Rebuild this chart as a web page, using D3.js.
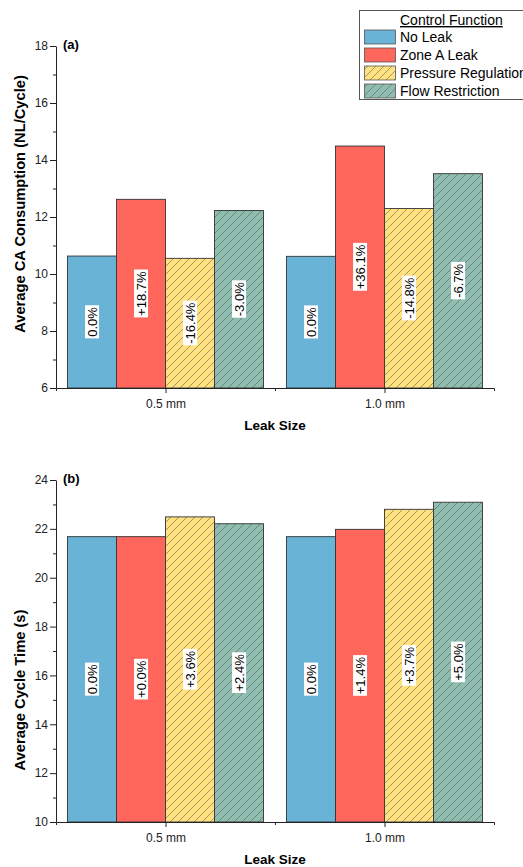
<!DOCTYPE html>
<html>
<head>
<meta charset="utf-8">
<script src="https://cdn.jsdelivr.net/npm/d3@7"></script>
<style>
  body { margin: 0; background: #fff; }
  svg { display: block; font-family: "Liberation Sans", Arial, sans-serif; }
</style>
</head>
<body>
<svg id="chart" width="523" height="867"></svg>
<script>
// leak sizes (mm) and series names
const leakSizes = [0.5, 1.0];
const seriesNames = ['No Leak', 'Zone A Leak', 'Pressure Regulation', 'Flow Restriction'];
const seriesColors = ['#68b3d6', '#ff665c', '#ffe27f', '#8fbdaf'];
const seriesHatched = [false, false, true, true];

// (a) average CA consumption (NL/cycle)
const caNoLeak = [10.63, 10.62];
const caZoneA = [12.62, 14.49];
const caPressure = [10.55, 12.30];
const caFlow = [12.23, 13.52];
const caPctNoLeak = ['0.0%', '0.0%'];
const caPctZoneA = ['+18.7%', '+36.1%'];
const caPctPressure = ['-16.4%', '-14.8%'];
const caPctFlow = ['-3.0%', '-6.7%'];

// (b) average cycle time (s)
const ctNoLeak = [21.68, 21.68];
const ctZoneA = [21.68, 21.98];
const ctPressure = [22.49, 22.80];
const ctFlow = [22.21, 23.09];
const ctPctNoLeak = ['0.0%', '0.0%'];
const ctPctZoneA = ['+0.0%', '+1.4%'];
const ctPctPressure = ['+3.6%', '+3.7%'];
const ctPctFlow = ['+2.4%', '+5.0%'];

const svg = d3.select('#chart');

// hatch pattern per colour
const defs = svg.append('defs');
seriesColors.forEach((c, i) => {
    if (!seriesHatched[i]) return;
    const p = defs.append('pattern')
        .attr('id', 'hatch' + i)
        .attr('patternUnits', 'userSpaceOnUse')
        .attr('width', 8)
        .attr('height', 8);
    p.append('rect').attr('width', 8).attr('height', 8).attr('fill', c);
    p.append('path')
        .attr('d', 'M0,8 L8,0 M-2,2 L2,-2 M6,10 L10,6')
        .attr('stroke', '#555')
        .attr('stroke-width', 0.55);
});
const fillFor = i => seriesHatched[i] ? `url(#hatch${i})` : seriesColors[i];

const X0 = 56, X1 = 494;

const drawPanel = (cfg) => {
    const x = d3.scaleLinear().domain([0.25, 1.25]).range([X0, X1]);
    const y = d3.scaleLinear().domain(cfg.yDomain).range([cfg.bottom, cfg.top]);
    const g = svg.append('g');

    const groupW = (x(1.0) - x(0.5)) * 0.895;
    const barW = groupW / seriesNames.length;

    const rows = [];
    cfg.values.forEach((vals, si) => {
        vals.forEach((v, ci) => {
            rows.push({ si, size: leakSizes[ci], v, label: cfg.labels[si][ci] });
        });
    });
    const bx = d => x(d.size) - groupW / 2 + d.si * barW;

    g.selectAll('.bar')
        .data(rows)
        .enter()
        .append('rect')
        .attr('class', 'bar')
        .attr('x', bx)
        .attr('y', d => y(d.v))
        .attr('width', barW)
        .attr('height', d => y(cfg.yDomain[0]) - y(d.v))
        .attr('fill', d => fillFor(d.si))
        .attr('stroke', '#333')
        .attr('stroke-width', 0.9);

    // percentage labels, rotated, centred in the bar
    const lab = g.selectAll('.lab')
        .data(rows)
        .enter()
        .append('g')
        .attr('class', 'lab')
        .attr('transform', d => `translate(${bx(d) + barW / 2},${(y(d.v) + y(cfg.yDomain[0])) / 2}) rotate(-90)`);
    lab.append('text')
        .attr('text-anchor', 'middle')
        .attr('dy', '0.35em')
        .attr('font-size', 13)
        .attr('fill', '#000')
        .text(d => d.label);
    lab.each(function () {
        const t = d3.select(this).select('text');
        const b = t.node().getBBox();
        d3.select(this).insert('rect', 'text')
            .attr('x', b.x - 1.5)
            .attr('y', b.y + 0.5)
            .attr('width', b.width + 3)
            .attr('height', b.height - 1)
            .attr('fill', '#fff');
    });

    // y axis: major + minor ticks
    const yMajor = d3.range(cfg.yDomain[0], cfg.yDomain[1] + 0.01, 2);
    const yMinor = d3.range(cfg.yDomain[0] + 1, cfg.yDomain[1], 2);
    g.append('g')
        .attr('transform', `translate(${X0},0)`)
        .call(d3.axisLeft(y).tickValues(yMajor).tickSize(6).tickPadding(2).tickSizeOuter(0));
    g.append('g')
        .attr('transform', `translate(${X0},0)`)
        .call(d3.axisLeft(y).tickValues(yMinor).tickSize(3).tickFormat('').tickSizeOuter(0))
        .select('.domain').remove();

    // x axis
    g.append('g')
        .attr('transform', `translate(0,${cfg.bottom})`)
        .call(d3.axisBottom(x).tickValues(leakSizes).tickSize(5).tickPadding(6).tickSizeOuter(3)
            .tickFormat(d => `${d.toFixed(1)} mm`));
    g.append('g')
        .attr('transform', `translate(0,${cfg.bottom})`)
        .call(d3.axisBottom(x).tickValues([0.75]).tickSize(3).tickFormat(''))
        .select('.domain').remove();

    g.selectAll('.tick text').attr('font-size', 12).attr('fill', '#222').attr('font-family', null);
    g.selectAll('.domain, .tick line').attr('stroke', '#222');

    g.append('text')
        .attr('x', (X0 + X1) / 2)
        .attr('y', cfg.bottom + 42)
        .attr('text-anchor', 'middle')
        .attr('font-size', 13.5)
        .attr('font-weight', 'bold')
        .text('Leak Size');

    g.append('text')
        .attr('transform', `translate(25,${cfg.yLabelY}) rotate(-90)`)
        .attr('text-anchor', 'middle')
        .attr('font-size', 14.7)
        .attr('font-weight', 'bold')
        .text(cfg.yTitle);

    g.append('text')
        .attr('x', 63)
        .attr('y', cfg.top + 3)
        .attr('font-size', 13)
        .attr('font-weight', 'bold')
        .text(cfg.tag);
};

drawPanel({
    yDomain: [6, 18], top: 46, bottom: 388, yLabelY: 204,
    values: [caNoLeak, caZoneA, caPressure, caFlow],
    labels: [caPctNoLeak, caPctZoneA, caPctPressure, caPctFlow],
    yTitle: 'Average CA Consumption (NL/Cycle)', tag: '(a)'
});

drawPanel({
    yDomain: [10, 24], top: 480, bottom: 822, yLabelY: 690,
    values: [ctNoLeak, ctZoneA, ctPressure, ctFlow],
    labels: [ctPctNoLeak, ctPctZoneA, ctPctPressure, ctPctFlow],
    yTitle: 'Average Cycle Time (s)', tag: '(b)'
});

// legend (box runs past the right edge, as in the original)
const legend = svg.append('g');
legend.append('rect')
    .attr('x', 359.5).attr('y', 10.5)
    .attr('width', 190).attr('height', 89)
    .attr('fill', '#fff')
    .attr('stroke', '#555')
    .attr('stroke-width', 1);
legend.append('text')
    .attr('x', 400).attr('y', 25)
    .attr('font-size', 14)
    .attr('text-decoration', 'underline')
    .text('Control Function');
const li = legend.selectAll('.li')
    .data(seriesNames)
    .enter()
    .append('g')
    .attr('class', 'li')
    .attr('transform', (d, i) => `translate(0,${30 + i * 18})`);
li.append('rect')
    .attr('x', 364.5).attr('y', 0)
    .attr('width', 31).attr('height', 14)
    .attr('fill', (d, i) => fillFor(i))
    .attr('stroke', '#555')
    .attr('stroke-width', 0.8);
li.append('text')
    .attr('x', 400).attr('y', 12)
    .attr('font-size', 14)
    .text(d => d);
</script>
</body>
</html>
